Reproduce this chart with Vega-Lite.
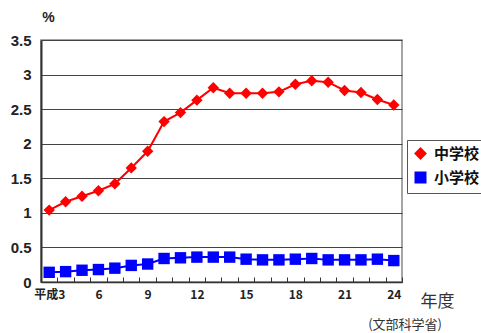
{
  "$schema": "https://vega.github.io/schema/vega-lite/v6.json",
  "width": 361,
  "height": 242,
  "autosize": {"type": "none"},
  "padding": {"left": 41, "top": 40, "right": 79, "bottom": 51},
  "background": "white",
  "title": {
    "text": "(文部科学省)",
    "orient": "bottom",
    "anchor": "end",
    "frame": "group",
    "font": "Noto Sans CJK JP",
    "fontSize": 13,
    "fontWeight": "normal",
    "color": "#333333",
    "dx": 40,
    "offset": 10
  },
  "data": {
    "values": [
      {"year": 3, "school": "中学校", "rate": 1.04},
      {"year": 4, "school": "中学校", "rate": 1.16},
      {"year": 5, "school": "中学校", "rate": 1.24},
      {"year": 6, "school": "中学校", "rate": 1.32},
      {"year": 7, "school": "中学校", "rate": 1.42},
      {"year": 8, "school": "中学校", "rate": 1.65},
      {"year": 9, "school": "中学校", "rate": 1.89},
      {"year": 10, "school": "中学校", "rate": 2.32},
      {"year": 11, "school": "中学校", "rate": 2.45},
      {"year": 12, "school": "中学校", "rate": 2.63},
      {"year": 13, "school": "中学校", "rate": 2.81},
      {"year": 14, "school": "中学校", "rate": 2.73},
      {"year": 15, "school": "中学校", "rate": 2.73},
      {"year": 16, "school": "中学校", "rate": 2.73},
      {"year": 17, "school": "中学校", "rate": 2.75},
      {"year": 18, "school": "中学校", "rate": 2.86},
      {"year": 19, "school": "中学校", "rate": 2.91},
      {"year": 20, "school": "中学校", "rate": 2.89},
      {"year": 21, "school": "中学校", "rate": 2.77},
      {"year": 22, "school": "中学校", "rate": 2.74},
      {"year": 23, "school": "中学校", "rate": 2.64},
      {"year": 24, "school": "中学校", "rate": 2.56},
      {"year": 3, "school": "小学校", "rate": 0.14},
      {"year": 4, "school": "小学校", "rate": 0.15},
      {"year": 5, "school": "小学校", "rate": 0.17},
      {"year": 6, "school": "小学校", "rate": 0.18},
      {"year": 7, "school": "小学校", "rate": 0.20},
      {"year": 8, "school": "小学校", "rate": 0.24},
      {"year": 9, "school": "小学校", "rate": 0.26},
      {"year": 10, "school": "小学校", "rate": 0.34},
      {"year": 11, "school": "小学校", "rate": 0.35},
      {"year": 12, "school": "小学校", "rate": 0.36},
      {"year": 13, "school": "小学校", "rate": 0.36},
      {"year": 14, "school": "小学校", "rate": 0.36},
      {"year": 15, "school": "小学校", "rate": 0.33},
      {"year": 16, "school": "小学校", "rate": 0.32},
      {"year": 17, "school": "小学校", "rate": 0.32},
      {"year": 18, "school": "小学校", "rate": 0.33},
      {"year": 19, "school": "小学校", "rate": 0.34},
      {"year": 20, "school": "小学校", "rate": 0.32},
      {"year": 21, "school": "小学校", "rate": 0.32},
      {"year": 22, "school": "小学校", "rate": 0.32},
      {"year": 23, "school": "小学校", "rate": 0.33},
      {"year": 24, "school": "小学校", "rate": 0.31}
    ]
  },
  "config": {
    "view": {"stroke": "#888888", "strokeWidth": 1.5},
    "font": "Liberation Sans"
  },
  "mark": {"type": "line", "strokeWidth": 2, "point": {"filled": true, "size": 130, "opacity": 1}},
  "encoding": {
    "x": {
      "field": "year",
      "type": "ordinal",
      "sort": "ascending",
      "scale": {"type": "point", "padding": 0.5},
      "axis": {
        "title": "年度",
        "titleFont": "Noto Sans CJK JP",
        "titleFontSize": 17,
        "titleFontWeight": "normal",
        "titleColor": "#333333",
        "titleAnchor": "start",
        "titleX": 379,
        "titleY": 19,
        "titleBaseline": "middle",
        "labelExpr": "datum.value % 3 == 0 ? (datum.value == 3 ? '平成3' : '' + datum.value) : ''",
        "labelFont": "Noto Sans CJK JP",
        "labelFontSize": 12,
        "labelFontWeight": "bold",
        "labelColor": "#222222",
        "labelAngle": 0,
        "labelOverlap": false,
        "labelPadding": 12,
        "tickOffset": 8.2,
        "labelOffset": -8.2,
        "tickSize": -5,
        "tickColor": "#333333",
        "tickWidth": 1,
        "domainColor": "#333333",
        "domainWidth": 1.5,
        "grid": false
      }
    },
    "y": {
      "field": "rate",
      "type": "quantitative",
      "scale": {"domain": [0, 3.5]},
      "axis": {
        "values": [0, 0.5, 1, 1.5, 2, 2.5, 3, 3.5],
        "labelExpr": "'' + datum.value",
        "title": "%",
        "titleAngle": 0,
        "titleX": 7,
        "titleY": -23,
        "titleFontSize": 14,
        "titleFontWeight": "bold",
        "titleColor": "#222222",
        "titleAlign": "center",
        "titleBaseline": "middle",
        "labelFontSize": 15,
        "labelFontWeight": "bold",
        "labelColor": "#222222",
        "labelPadding": 10,
        "ticks": false,
        "domainColor": "#333333",
        "domainWidth": 2,
        "gridColor": "#444444",
        "gridWidth": 1.2
      }
    },
    "color": {
      "field": "school",
      "type": "nominal",
      "sort": ["中学校", "小学校"],
      "scale": {"domain": ["中学校", "小学校"], "range": ["#ff0000", "#0000ff"]},
      "legend": {
        "title": null,
        "orient": "none",
        "legendX": 366,
        "legendY": 100,
        "strokeColor": "#555555",
        "padding": 6,
        "labelFont": "Noto Sans CJK JP",
        "labelFontSize": 15,
        "labelFontWeight": "bold",
        "labelColor": "#111111",
        "symbolSize": 100,
        "symbolStrokeWidth": 2,
        "labelOffset": 6,
        "rowPadding": 5
      }
    },
    "shape": {
      "field": "school",
      "type": "nominal",
      "sort": ["中学校", "小学校"],
      "scale": {"domain": ["中学校", "小学校"], "range": ["diamond", "square"]}
    }
  }
}
